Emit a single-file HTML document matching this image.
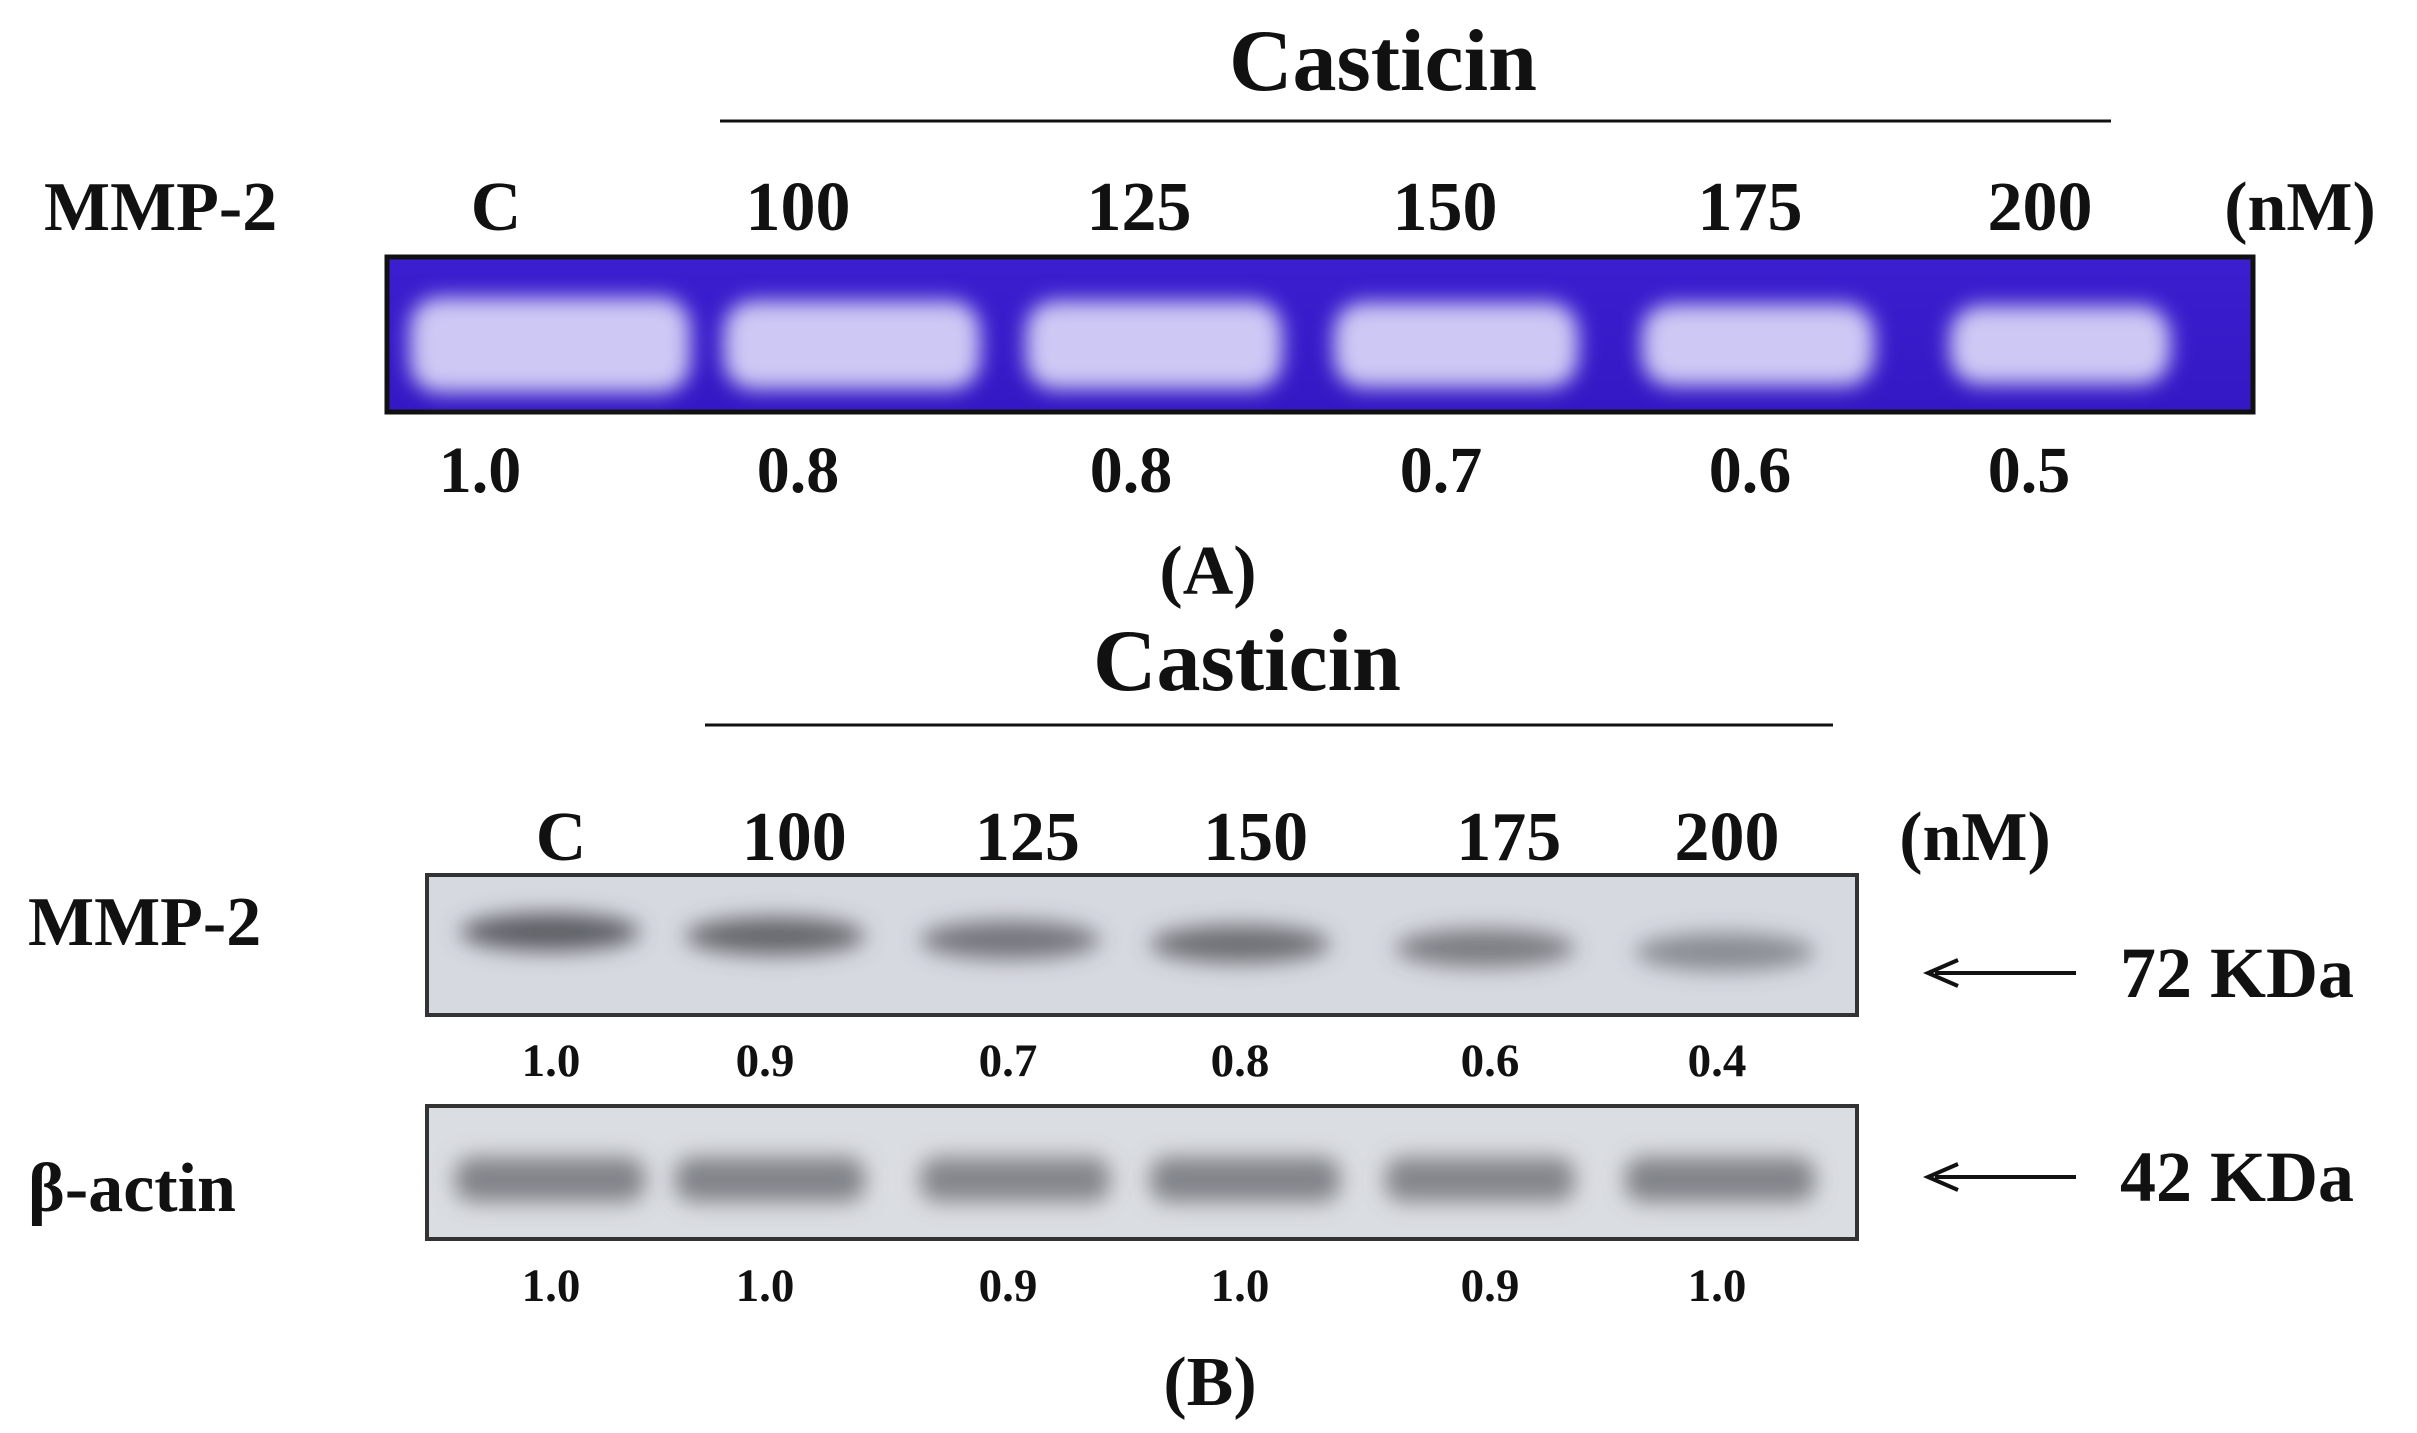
<!DOCTYPE html>
<html><head><meta charset="utf-8"><style>
html,body{margin:0;padding:0;background:#fff}
svg{display:block}
text{font-family:"Liberation Serif",serif;font-weight:bold;fill:#111}
</style></head><body>
<svg id="fig" width="2417" height="1433" viewBox="0 0 2417 1433">
<defs>
<filter id="blurA" x="-30%" y="-60%" width="160%" height="220%"><feGaussianBlur stdDeviation="10"/></filter>
<filter id="blurB" x="-30%" y="-80%" width="160%" height="260%"><feGaussianBlur stdDeviation="11"/></filter>
<linearGradient id="gelbg" x1="0" y1="0" x2="0" y2="1"><stop offset="0" stop-color="#3b1fd0"/><stop offset="1" stop-color="#3418c4"/></linearGradient>
</defs>
<g id="panelA">
<text x="1383" y="90" font-size="88" text-anchor="middle">Casticin</text>
<line x1="720" y1="121" x2="2111" y2="121" stroke="#111" stroke-width="3"/>
<text x="44" y="230" font-size="70">MMP-2</text>
<text x="2300" y="230" font-size="70" text-anchor="middle">(nM)</text>
<rect x="387" y="257" width="1866" height="155" fill="url(#gelbg)" stroke="#111" stroke-width="5"/>
<g id="bandsA"></g>
<g id="labelsA"></g>
<text x="1208" y="594" font-size="70" text-anchor="middle">(A)</text>
</g>
<g id="panelB">
<text x="1247" y="690" font-size="88" text-anchor="middle">Casticin</text>
<line x1="705" y1="725" x2="1833" y2="725" stroke="#111" stroke-width="3"/>
<text x="1975" y="860" font-size="70" text-anchor="middle">(nM)</text>
<text x="28" y="945" font-size="70">MMP-2</text>
<text x="28" y="1211" font-size="70">β-actin</text>
<rect x="427" y="875" width="1430" height="140" fill="#d6d9e0" stroke="#333" stroke-width="4"/>
<rect x="427" y="1106" width="1430" height="133" fill="#dadde2" stroke="#333" stroke-width="4"/>
<g id="bandsB"></g>
<g id="bandsActin"></g>
<g id="labelsB"></g>
<line x1="1935" y1="973" x2="2076" y2="973" stroke="#111" stroke-width="4"/>
<polyline points="1958,960 1928,973 1958,986" fill="none" stroke="#111" stroke-width="4"/>
<line x1="1935" y1="1177" x2="2076" y2="1177" stroke="#111" stroke-width="4"/>
<polyline points="1958,1164 1928,1177 1958,1190" fill="none" stroke="#111" stroke-width="4"/>
<text x="2120" y="997" font-size="72">72 KDa</text>
<text x="2120" y="1201" font-size="72">42 KDa</text>
<text x="1210" y="1405" font-size="70" text-anchor="middle">(B)</text>
</g>
</svg>
<script>
const lanesA = ["C","100","125","150","175","200"];
const valuesA = ["1.0","0.8","0.8","0.7","0.6","0.5"];
const densA = [1.0,0.8,0.8,0.7,0.6,0.5];
const lanesB = ["C","100","125","150","175","200"];
const valuesMMP = ["1.0","0.9","0.7","0.8","0.6","0.4"];
const densMMP = [1.0,0.9,0.7,0.8,0.6,0.4];
const valuesActin = ["1.0","1.0","0.9","1.0","0.9","1.0"];
const densActin = [1.0,1.0,0.9,1.0,0.9,1.0];

const NS="http://www.w3.org/2000/svg";
function mk(tag,attrs,parent){const e=document.createElementNS(NS,tag);for(const k in attrs)e.setAttribute(k,attrs[k]);parent.appendChild(e);return e;}
const xA = i => [496,798,1139,1445,1750,2040][i];
const xValA = i => [480,798,1131,1441,1750,2029][i];
const xB = i => 561 + i*(1727-561)/5 + [0,0,0,-5,15,0][i];
const xBandA = i => 550 + i*302;

const gA=document.getElementById('bandsA');
densA.forEach((d,i)=>{
  const cx=xBandA(i);
  const w=280-(1-d)*120, h=95*(0.65+0.35*d);
  const r=mk('rect',{x:cx-w/2,y:345-h/2,width:w,height:h,rx:30,fill:'#cdc8f4',filter:'url(#blurA)'},gA);
  
  
});
const la=document.getElementById('labelsA');
lanesA.forEach((l,i)=>{
  const t=mk('text',{x:xA(i),y:230,'font-size':70,'text-anchor':'middle'},la);t.textContent=l;
  
  
});
valuesA.forEach((v,i)=>{
  const t=mk('text',{x:xValA(i),y:492,'font-size':66,'text-anchor':'middle'},la);t.textContent=v;
  
  
});
const gB=document.getElementById('bandsB');
densMMP.forEach((d,i)=>{
  const cx=[550,775,1010,1240,1485,1725][i];
  const op=0.35+0.55*d;
  const r=mk('ellipse',{cx:cx,cy:932+i*4,rx:90,ry:19,fill:'#4f5157','fill-opacity':op,filter:'url(#blurB)'},gB);
  
  
});
const gC=document.getElementById('bandsActin');
densActin.forEach((d,i)=>{
  const cx=[550,770,1015,1245,1480,1720][i];
  const r=mk('rect',{x:cx-95,y:1157,width:190,height:45,rx:18,fill:'#727479','fill-opacity':0.55+0.3*d,filter:'url(#blurB)'},gC);
  
  
});
const lb=document.getElementById('labelsB');
lanesB.forEach((l,i)=>{
  const t=mk('text',{x:xB(i),y:860,'font-size':70,'text-anchor':'middle'},lb);t.textContent=l;
  
  
});
valuesMMP.forEach((v,i)=>{
  const t=mk('text',{x:[551,765,1008,1240,1490,1717][i],y:1076,'font-size':47,'text-anchor':'middle'},lb);t.textContent=v;
  
  
});
valuesActin.forEach((v,i)=>{
  const t=mk('text',{x:[551,765,1008,1240,1490,1717][i],y:1301,'font-size':47,'text-anchor':'middle'},lb);t.textContent=v;
  
  
});
</script>
</body></html>
